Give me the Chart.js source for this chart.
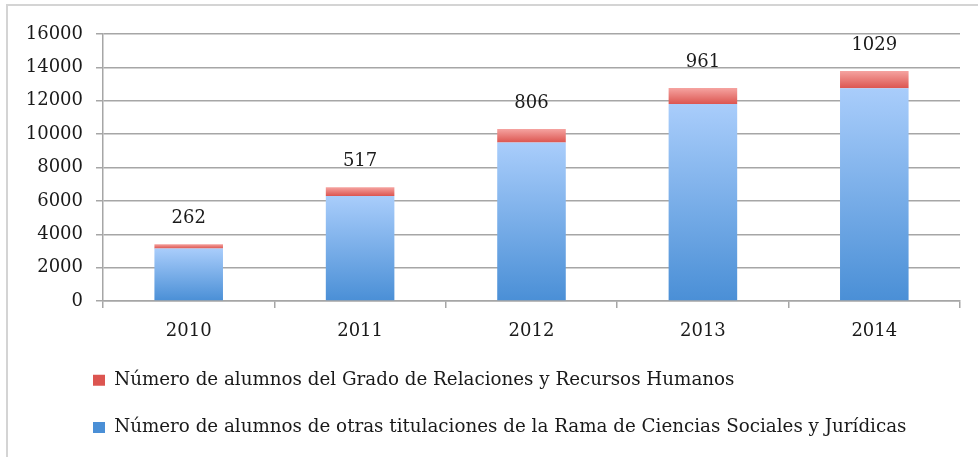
<!DOCTYPE html>
<html>
<head>
<meta charset="utf-8">
<script src="https://cdn.jsdelivr.net/npm/chart.js@4"></script>
<style>
  body { margin: 0; background: #fff; }
  .frame { position: absolute; left: 6px; top: 4px; width: 972px; height: 453px;
           border-left: 2px solid #d4d4d4; border-top: 2px solid #d4d4d4; }
  canvas { position: absolute; left: 0; top: 0; }
</style>
</head>
<body>
<div class="frame"></div>
<canvas id="myChart" width="978" height="457"></canvas>
<script>
const years = ["2010", "2011", "2012", "2013", "2014"];
const otrasAlumnos = [3150, 6300, 9500, 11800, 12750];
const rrhhAlumnos = [262, 517, 806, 961, 1029];
const yMax = 16000;
const yStep = 2000;

const serif = "'DejaVu Serif', 'Liberation Serif', serif";

// vertical gradient for each bar piece, light on top
const barGradient = (ctx, light, dark) => {
  const chart = ctx.chart;
  if (!chart.chartArea || ctx.type !== "data") return dark;
  const i = ctx.dataIndex;
  const y = chart.scales.y;
  let lo = 0, hi = otrasAlumnos[i];
  if (ctx.datasetIndex === 1) {
    lo = otrasAlumnos[i];
    hi = otrasAlumnos[i] + rrhhAlumnos[i];
  }
  const g = chart.ctx.createLinearGradient(0, y.getPixelForValue(hi), 0, y.getPixelForValue(lo));
  g.addColorStop(0, light);
  g.addColorStop(1, dark);
  return g;
};

// numbers above the bars (red series)
const topLabels = {
  id: "topLabels",
  afterDatasetsDraw(chart) {
    const c = chart.ctx;
    c.save();
    c.font = "18px " + serif;
    c.fillStyle = "#1a1a1a";
    c.textAlign = "center";
    c.textBaseline = "middle";
    chart.getDatasetMeta(1).data.forEach((el, i) => {
      c.fillText(rrhhAlumnos[i], el.x, el.y - 26);
    });
    c.restore();
  },
};

// put the legend rows at the left indent, under the axis labels
const legendShift = {
  id: "legendShift",
  afterLayout(chart) {
    const lg = chart.legend;
    const pad = lg.options.labels.padding;
    const dx = 93 - pad - lg.left;
    const dy = 342 - lg.top;
    lg.left += dx;
    lg.right += dx;
    lg.top += dy;
    lg.bottom += dy;
  },
};

const ctx = document.getElementById("myChart").getContext("2d");
const myChart = new Chart(ctx, {
  type: "bar",
  data: {
    labels: years,
    datasets: [
      {
        label: "Número de alumnos de otras titulaciones de la Rama de Ciencias Sociales y Jurídicas",
        data: otrasAlumnos,
        backgroundColor: (c) => barGradient(c, "#a9cdfb", "#4a8fd6"),
        barPercentage: 0.4,
        categoryPercentage: 1,
      },
      {
        label: "Número de alumnos del Grado de Relaciones y Recursos Humanos",
        data: rrhhAlumnos,
        backgroundColor: (c) => barGradient(c, "#f5a3a0", "#dc5550"),
        barPercentage: 0.4,
        categoryPercentage: 1,
      },
    ],
  },
  options: {
    responsive: false,
    animation: false,
    layout: { padding: { top: 34, right: 18, left: 0, bottom: -1.3 } },
    plugins: {
      tooltip: { enabled: false },
      legend: {
        position: "bottom",
        align: "start",
        reverse: true,
        labels: {
          boxWidth: 12,
          boxHeight: 11,
          padding: 29,
          color: "#1a1a1a",
          font: { family: serif, size: 18.3 },
        },
      },
    },
    scales: {
      x: {
        stacked: true,
        grid: {
          display: true,
          drawOnChartArea: false,
          offset: true,
          tickLength: 7,
          color: "#a6a6a6",
          lineWidth: 1.5,
        },
        border: { color: "#a6a6a6", width: 1.5 },
        ticks: { color: "#1a1a1a", padding: 12, font: { family: serif, size: 18 } },
      },
      y: {
        stacked: true,
        min: 0,
        max: yMax,
        afterFit: (scale) => {
          scale.width = 103;
        },
        ticks: {
          stepSize: yStep,
          color: "#1a1a1a",
          padding: 13,
          font: { family: serif, size: 18 },
          callback: (v) => String(v),
        },
        grid: { color: "#a6a6a6", lineWidth: 1.5, tickLength: 7 },
        border: { color: "#a6a6a6", width: 1.5 },
      },
    },
  },
  plugins: [topLabels, legendShift],
});
</script>
</body>
</html>
